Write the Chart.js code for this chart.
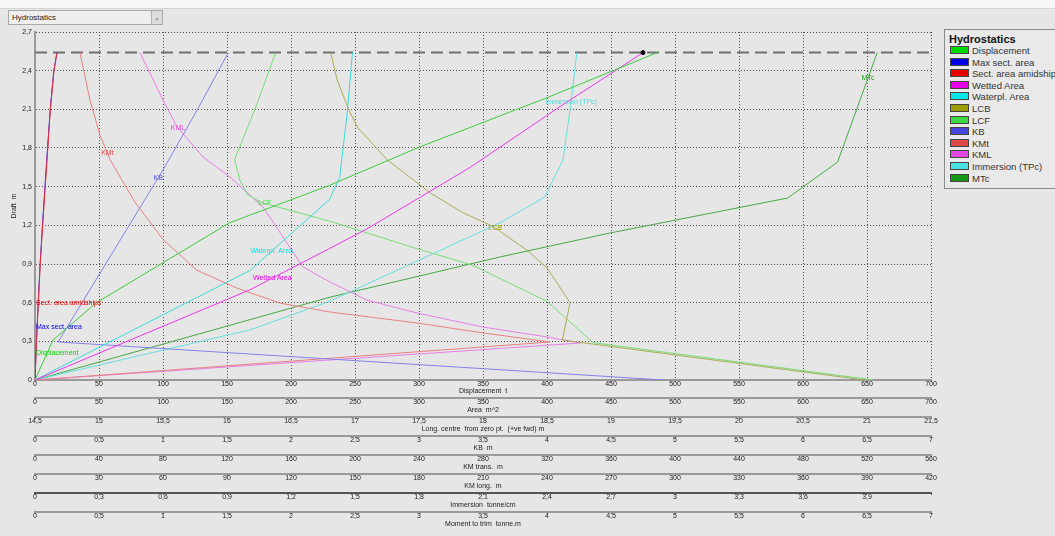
<!DOCTYPE html>
<html lang="en">
<head>
<meta charset="UTF-8">
<title>Hydrostatics</title>
<script src="https://cdn.jsdelivr.net/npm/chart.js@4.4.0/dist/chart.umd.min.js"></script>
<style>
    body {
        margin: 0;
        width: 1055px;
        height: 536px;
        overflow: hidden;
        background: #e6e6e6;
        font-family: "Liberation Sans", Arial, sans-serif;
        position: relative;
    }
    .topbar {
        position: absolute; left: 0; top: 0;
        width: 1055px; height: 8px;
        background: #f8f8f8;
        border-bottom: 1px solid #d4d4d4;
    }
    .combo {
        position: absolute; left: 8px; top: 10px;
        width: 153px; height: 13px;
        background: #efefef;
        border: 1px solid #a8a8a8;
        font-size: 8px; line-height: 13px; color: #222;
    }
    .combo span { margin-left: 3px; }
    .combo .btn {
        position: absolute; right: 0; top: 0;
        width: 10px; height: 13px;
        background: #dcdcdc; border-left: 1px solid #b0b0b0;
        font-size: 7px; text-align: center; color: #555;
    }
    #chartBox {
        position: absolute; left: 0; top: 24px;
        width: 942px; height: 507px;
    }
    /* legende a droite */
    .legend {
        position: absolute; left: 944px; top: 29px;
        width: 125px; height: 158px;
        border: 1px solid #8a8a8a;
        background: #e9e9e9;
    }
    .legend h4 {
        margin: 0; padding: 3px 0 0 4px;
        font-size: 11px; line-height: 12px; color: #111;
    }
    .legend .item {
        height: 11.6px; line-height: 11.6px;
        font-size: 9.5px; color: #333; white-space: nowrap;
    }
    .legend .sw {
        display: inline-block; width: 17px; height: 6px;
        margin: 0 3px 0 5px; vertical-align: 0px;
        border: 1px solid #444;
    }
</style>
</head>
<body>
<div class="topbar"></div>
<div class="combo"><span>Hydrostatics</span><div class="btn">&#8964;</div></div>
<div id="chartBox"><canvas id="hydro"></canvas></div>
<div class="legend" id="legend"><h4>Hydrostatics</h4></div>

<script>
// ---- donnees (tirant d'eau en m) ----
const curveNames = ['Displacement', 'Max sect. area', 'Sect. area amidships', 'Wetted Area', 'Waterpl. Area',
    'LCB', 'LCF', 'KB', 'KMt', 'KML', 'Immersion (TPc)', 'MTc'];

const dispDraft = [0, 0.31, 0.60, 0.91, 1.22, 1.51, 1.81, 2.19, 2.54];
const dispTonnes = [0, 14, 48, 100, 152, 230, 301, 400, 486];

const maxSectDraft = [0, 0.3, 0.6, 0.9, 1.2, 1.5, 1.8, 2.1, 2.4, 2.54];
const maxSectArea = [0, 1.1, 2.5, 4.0, 5.8, 7.8, 9.8, 11.9, 14.7, 17.1];

const sectMidDraft = [0, 0.3, 0.6, 0.9, 1.2, 1.5, 1.8, 2.1, 2.4, 2.54];
const sectMidArea = [0, 1.2, 2.6, 4.1, 6.0, 8.0, 10.0, 12.0, 14.8, 17.2];

const wettedDraft = [0, 0.70, 1.02, 1.17, 1.65, 2.12, 2.54];
const wettedArea = [0, 168, 230, 259, 340, 410, 475];

const waterplDraft = [0, 0.85, 1.40, 1.57, 2.08, 2.54];
const waterplArea = [0, 168, 230, 238, 244, 248];

const lcbDraft = [0, 0.31, 0.60, 0.87, 1.01, 1.19, 1.30, 1.45, 1.71, 1.96, 2.10, 2.33, 2.54];
const lcbMetres = [20.98, 18.62, 18.68, 18.50, 18.34, 18.08, 17.84, 17.59, 17.25, 17.02, 16.95, 16.86, 16.81];

const lcfDraft = [0, 0.29, 0.61, 0.89, 1.02, 1.23, 1.38, 1.44, 1.55, 1.71, 2.13, 2.54];
const lcfMetres = [21.05, 18.86, 18.50, 17.92, 17.48, 16.81, 16.26, 16.16, 16.10, 16.06, 16.23, 16.38];

const kbDraft = [0, 0.295, 1.63, 2.10, 2.54];
const kbMetres = [4.91, 0.18, 1.00, 1.27, 1.51];

const kmtDraft = [0, 0.295, 0.365, 0.442, 0.528, 0.597, 0.714, 0.853, 1.09, 1.19, 1.38, 1.55, 1.71, 1.90, 2.17, 2.54];
const kmtMetres = [0, 322, 280, 239, 184, 153, 126, 101, 80, 74, 62.5, 54.4, 46.9, 40.6, 34.4, 28.1];

const kmlDraft = [0, 0.287, 0.334, 0.411, 0.52, 0.62, 0.76, 0.877, 1.342, 1.575, 1.73, 1.963, 2.172, 2.54];
const kmlMetres = [0, 255.5, 240, 210, 179, 155.6, 138.3, 125.6, 106.9, 91.4, 78.8, 66.6, 60, 49.2];

const tpcDraft = [0, 0.39, 0.61, 1.22, 1.42, 1.71, 2.12, 2.54];
const tpcTonnes = [0, 1.01, 1.38, 2.18, 2.39, 2.475, 2.51, 2.54];

const mtcDraft = [0, 0.644, 0.954, 1.14, 1.412, 1.691, 1.80, 2.54];
const mtcTonneM = [0, 2.31, 3.63, 4.49, 5.88, 6.27, 6.31, 6.58];

// tirant d'eau ou chaque etiquette de courbe est posee
const labelDrafts = [0.21, 0.41, 0.60, 0.79, 1.00, 1.18, 1.37, 1.57, 1.76, 1.955, 2.16, 2.343];

// ligne de flottaison (pointillés) et point selectionne
const waterlineDisp = [0, 700];
const waterlineDraft = [2.54, 2.54];
const markerArea = [475];
const markerDraft = [2.54];

// axes horizontaux empiles
const axisIds = ['xDisp', 'xArea', 'xLong', 'xKB', 'xKMt', 'xKMl', 'xTPc', 'xMTc'];
const axisTitles = ['Displacement  t', 'Area  m^2', 'Long. centre  from zero pt.  (+ve fwd) m', 'KB  m',
    'KM trans.  m', 'KM long.  m', 'Immersion  tonne/cm', 'Moment to trim  tonne.m'];
const axisMin = [0, 0, 14.5, 0, 0, 0, 0, 0];
const axisMax = [700, 700, 21.5, 7, 560, 420, 4.2, 7];
const axisStep = [50, 50, 0.5, 0.5, 40, 30, 0.3, 0.5];
const draftTicks = { min: 0, max: 2.7, step: 0.3 };

// ---- styles ----
const curves = [
    { draft: dispDraft, values: dispTonnes, axis: 'xDisp', color: '#3ccc3c', swatch: '#00d800' },
    { draft: maxSectDraft, values: maxSectArea, axis: 'xArea', color: '#2424f4', swatch: '#0000e8', order: 1 },
    { draft: sectMidDraft, values: sectMidArea, axis: 'xArea', color: '#f42a2a', swatch: '#e80000' },
    { draft: wettedDraft, values: wettedArea, axis: 'xArea', color: '#ec34ec', swatch: '#e800e8' },
    { draft: waterplDraft, values: waterplArea, axis: 'xArea', color: '#38dcdc', swatch: '#00e8e8' },
    { draft: lcbDraft, values: lcbMetres, axis: 'xLong', color: '#abab52', swatch: '#9c9c00' },
    { draft: lcfDraft, values: lcfMetres, axis: 'xLong', color: '#74dc74', swatch: '#40d840' },
    { draft: kbDraft, values: kbMetres, axis: 'xKB', color: '#8282ea', swatch: '#4848e0' },
    { draft: kmtDraft, values: kmtMetres, axis: 'xKMt', color: '#e88080', swatch: '#e04848' },
    { draft: kmlDraft, values: kmlMetres, axis: 'xKMl', color: '#e67ee6', swatch: '#e048e0' },
    { draft: tpcDraft, values: tpcTonnes, axis: 'xTPc', color: '#66dede', swatch: '#48e0e0' },
    { draft: mtcDraft, values: mtcTonneM, axis: 'xMTc', color: '#44aa44', swatch: '#189818' }
];

function fmt(v) {
    return String(Math.round(v * 100) / 100).replace('.', ',');
}

const datasets = curves.map((c, i) => ({
    label: curveNames[i],
    data: c.draft.map((d, k) => ({ x: c.values[k], y: d })),
    xAxisID: c.axis,
    yAxisID: 'y',
    borderColor: c.color,
    borderWidth: 1,
    pointRadius: 0,
    showLine: true,
    order: c.order || 0
}));
datasets.push({
    label: 'marker',
    data: markerArea.map((v, k) => ({ x: v, y: markerDraft[k] })),
    xAxisID: 'xArea', yAxisID: 'y',
    pointRadius: 2, pointBackgroundColor: '#000', pointBorderColor: '#000', showLine: false, order: -1
});
datasets.push({
    label: 'waterline',
    data: waterlineDisp.map((v, k) => ({ x: v, y: waterlineDraft[k] })),
    xAxisID: 'xDisp', yAxisID: 'y',
    borderColor: '#6e6e6e', borderWidth: 2, borderDash: [12, 6],
    pointRadius: 0, showLine: true, order: 5
});

const scales = {
    y: {
        type: 'linear', position: 'left',
        min: draftTicks.min, max: draftTicks.max,
        ticks: { stepSize: draftTicks.step, font: { size: 7 }, color: '#222', padding: 3, callback: v => fmt(v) },
        grid: { color: '#505050', drawTicks: false },
        border: { display: true, color: '#9a9a9a', width: 2, dash: [1, 2] },
        title: { display: true, text: 'Draft  m', font: { size: 7 }, color: '#222', padding: { top: 10, bottom: 0 } },
        afterFit: s => { s.width = 35; }
    }
};
axisIds.forEach((id, i) => {
    scales[id] = {
        type: 'linear', position: 'bottom', weight: i,
        min: axisMin[i], max: axisMax[i],
        ticks: {
            stepSize: axisStep[i], font: { size: 7 }, color: '#222', padding: -2,
            maxRotation: 0, autoSkip: false,
            callback: v => (id === 'xTPc' && v > 4.1) ? '' : fmt(v)
        },
        grid: { display: true, drawOnChartArea: i === 0, drawTicks: true, tickLength: 2, color: '#505050', tickColor: '#555' },
        border: { display: true, color: id === 'xTPc' ? '#555' : '#9a9a9a', width: 2, dash: i === 0 ? [1, 2] : [] },
        title: { display: true, text: axisTitles[i], font: { size: 7 }, color: '#222', padding: { top: 0, bottom: 3 } },
        afterFit: s => { s.height = i === 0 ? 18 : 19; }
    };
});

// etiquettes posees sur les courbes
const curveLabels = {
    id: 'curveLabels',
    afterDatasetsDraw(chart) {
        const ctx = chart.ctx, area = chart.chartArea, ys = chart.scales.y;
        ctx.save();
        ctx.font = '7px "Liberation Sans", Arial, sans-serif';
        ctx.textBaseline = 'middle';
        curves.forEach((c, i) => {
            const d = labelDrafts[i];
            let v = null;
            for (let k = c.draft.length - 1; k > 0; k--) {
                const d1 = c.draft[k - 1], d2 = c.draft[k];
                if (d >= Math.min(d1, d2) && d <= Math.max(d1, d2)) {
                    v = c.values[k - 1] + (c.values[k] - c.values[k - 1]) * (d - d1) / (d2 - d1);
                    break;
                }
            }
            if (v === null) return;
            const px = chart.scales[c.axis].getPixelForValue(v);
            const py = ys.getPixelForValue(d);
            const w = ctx.measureText(curveNames[i]).width;
            const left = Math.max(area.left + 1, px - w / 2);
            ctx.fillStyle = c.swatch;
            ctx.fillText(curveNames[i], left, py);
        });
        ctx.restore();
    }
};

new Chart(document.getElementById('hydro').getContext('2d'), {
    type: 'scatter',
    data: { datasets: datasets },
    options: {
        responsive: true,
        maintainAspectRatio: false,
        animation: false,
        layout: { padding: { top: 8, right: 11, left: 0, bottom: 0 } },
        plugins: { legend: { display: false }, tooltip: { enabled: false } },
        font: { family: '"Liberation Sans", Arial, sans-serif' },
        scales: scales
    },
    plugins: [curveLabels]
});

// legende
const legend = document.getElementById('legend');
curves.forEach((c, i) => {
    const row = document.createElement('div');
    row.className = 'item';
    row.innerHTML = '<span class="sw" style="background:' + c.swatch + '"></span>' + curveNames[i];
    legend.appendChild(row);
});
</script>
</body>
</html>
